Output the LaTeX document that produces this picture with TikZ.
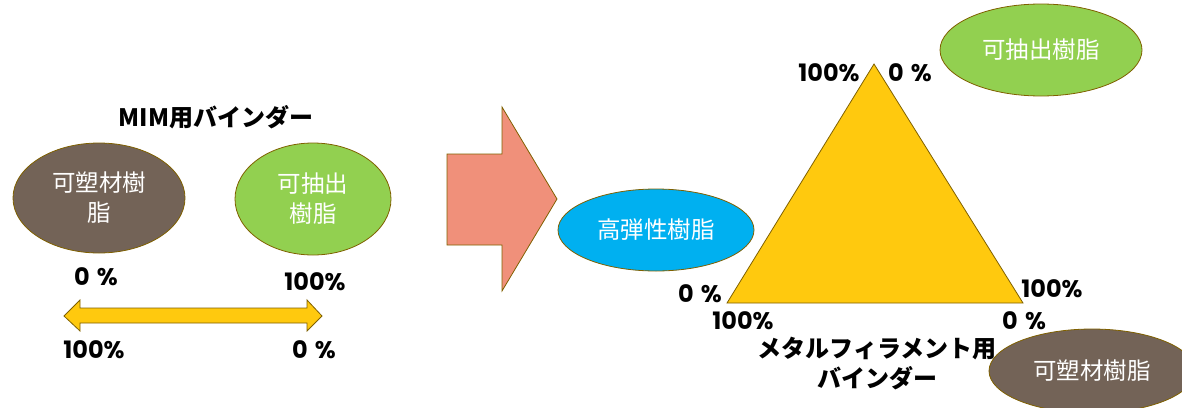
\documentclass[tikz,border=0pt]{standalone}
\usepackage{fontspec}
\usetikzlibrary{shapes.geometric}
\newfontfamily\jp{Noto Sans CJK JP}
\newfontfamily\num{Poppins}
\definecolor{brownfill}{HTML}{736357}
\definecolor{greenfill}{HTML}{92D050}
\definecolor{bluefill}{HTML}{00B0F0}
\definecolor{goldfill}{HTML}{FFC90E}
\definecolor{salmon}{HTML}{F0907A}
\definecolor{olive}{HTML}{7F6000}
\tikzset{
  resin/.style={ellipse, draw=olive, line width=0.8pt, inner sep=0pt, text=white,
    font=\jp\fontsize{23.5}{30}\selectfont, align=center},
  pct/.style={font=\num\bfseries\fontsize{24}{26}\selectfont, inner sep=0pt},
  ttl/.style={font=\jp\bfseries\fontsize{24}{30}\selectfont, align=center, inner sep=0pt},
  shapeline/.style={draw=olive, line width=0.8pt}
}
\begin{document}
\begin{tikzpicture}[x=1pt,y=-1pt]
\useasboundingbox (0,0) rectangle (1182,407);
\clip (0,0) rectangle (1182,407);
% left part
\node[ttl] (t1) at (216,117) {MIM用バインダー};
\node[resin, fill=brownfill, minimum width=172pt, minimum height=110pt] (b1) at (99,198) {可塑材樹\\脂};
\node[resin, fill=greenfill, minimum width=156pt, minimum height=112pt] (g1) at (313,199) {可抽出\\樹脂};
\node[pct] (p1) at (96,277) {0\hspace{0.3em}\%};
\node[pct] (p2) at (315,282) {100\%};
\node[pct] (p3) at (94,350) {100\%};
\node[pct] (p4) at (314,350) {0\hspace{0.3em}\%};
\fill[goldfill, shapeline] (64,316) -- (80,300) -- (80,308) -- (307,308) -- (307,300) -- (322,316)
  -- (307,331) -- (307,323) -- (80,323) -- (80,331) -- cycle;
% big arrow
\fill[salmon, shapeline] (447,154) -- (502,154) -- (502,107) -- (557,199) -- (502,291) -- (502,245) -- (447,245) -- cycle;
% right part
\node[resin, fill=bluefill, minimum width=196pt, minimum height=82pt] (bl) at (656,230) {高弾性樹脂};
\coordinate (ta) at (874,64);
\coordinate (tl) at (727,303);
\coordinate (tr) at (1023,303);
\fill[goldfill, shapeline] (ta) -- (tl) -- (tr) -- cycle;
\node[resin, fill=greenfill, minimum width=202pt, minimum height=92pt] (g2) at (1041,50) {可抽出樹脂};
\node[resin, fill=brownfill, minimum width=206pt, minimum height=84pt] (b2) at (1092,371) {可塑材樹脂};
\node[pct] (q1) at (829,73) {100\%};
\node[pct] (q2) at (910,73) {0\hspace{0.3em}\%};
\node[pct] (q3) at (700,294) {0\hspace{0.3em}\%};
\node[pct] (q4) at (1052,289) {100\%};
\node[pct] (q5) at (743,321) {100\%};
\node[pct] (q6) at (1024,321) {0\hspace{0.3em}\%};
\node[ttl] (t2) at (877,364) {メタルフィラメント用\\バインダー};
\end{tikzpicture}
\end{document}
